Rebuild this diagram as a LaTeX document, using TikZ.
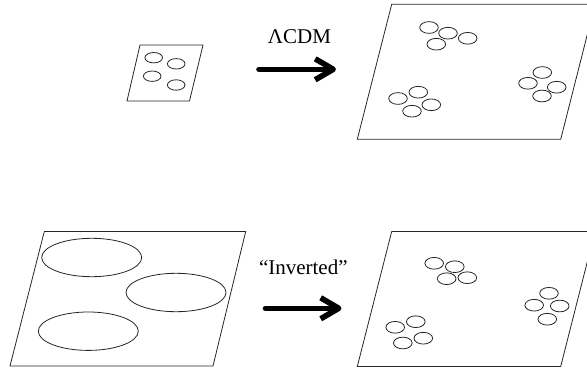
\documentclass[tikz,border=0pt]{standalone}
\usepackage{fontspec}
\setmainfont{Liberation Serif}
\usetikzlibrary{shapes.geometric,arrows.meta}
\begin{document}
\begin{tikzpicture}[x=1pt,y=-1pt]
        \tikzstyle{plane}=[draw=black!85,line width=0.8pt,line join=round]
        \tikzstyle{halo}=[ellipse,draw=black!85,line width=0.8pt,inner sep=0pt,minimum width=18.6,minimum height=11.7]
        \tikzstyle{tiny halo}=[halo,minimum width=17.6,minimum height=10.4]
        \tikzstyle{big halo}=[halo,minimum width=100,minimum height=38.4]
        \tikzstyle{label}=[font=\fontsize{21}{24}\selectfont,inner sep=0pt]
        \tikzstyle{evolve}=[draw,line width=5.6pt,line cap=round,-{Straight Barb[length=18pt,width=21pt,line join=round]}]
        \clip (0,0) rectangle (587,372);
        \begin{scope}
                \path[plane] (140,45) -- (203,45) -- (189.5,101) -- (127,101) -- cycle;
                \node [tiny halo] (p1) at (153.7,57.7) {};
                \node [tiny halo] (p2) at (176.2,63.8) {};
                \node [tiny halo] (p3) at (152.2,76.2) {};
                \node [tiny halo] (p4) at (176.2,85) {};
                \node [label] (lcdm) at (299.5,37) {ΛCDM};
                \coordinate (l1) at (259,69.3);
                \coordinate (l2) at (336,69.3);
                \path[evolve] (l1) -- (l2);
                \path[plane] (391.7,4.3) -- (595,4.3) -- (560.7,139.3) -- (357.3,139.3) -- cycle;
                \node [halo] (a1) at (429,27.5) {};
                \node [halo] (a2) at (448,33.2) {};
                \node [halo] (a3) at (467.7,38.3) {};
                \node [halo] (a4) at (436.3,44.2) {};
                \node [halo] (b1) at (398,98.5) {};
                \node [halo] (b2) at (418.3,92.2) {};
                \node [halo] (b3) at (431.3,104.8) {};
                \node [halo] (b4) at (412,111.2) {};
                \node [halo] (c1) at (542.3,72.5) {};
                \node [halo] (c2) at (528,83.3) {};
                \node [halo] (c3) at (556.7,87.2) {};
                \node [halo] (c4) at (542,96) {};
        \end{scope}
        \begin{scope}
                \path[plane] (44.3,231.5) -- (245.7,231.5) -- (213,366) -- (10,366) -- cycle;
                \node [big halo] (q1) at (91.7,257.5) {};
                \node [big halo] (q2) at (176,292.5) {};
                \node [big halo] (q3) at (88.3,331.2) {};
                \node [label] (inv) at (303.3,267) {“Inverted”};
                \coordinate (i1) at (265.5,308.3);
                \coordinate (i2) at (341.5,308.3);
                \path[evolve] (i1) -- (i2);
                \path[plane] (391.7,231.5) -- (595,231.5) -- (560.7,366.5) -- (357.3,366.5) -- cycle;
                \node [halo] (d1) at (434.2,263.3) {};
                \node [halo] (d2) at (454.8,266.7) {};
                \node [halo] (d3) at (446.7,278.7) {};
                \node [halo] (d4) at (467.3,277.7) {};
                \node [halo] (e1) at (395.2,327.3) {};
                \node [halo] (e2) at (415.8,321.7) {};
                \node [halo] (e3) at (423.3,338.2) {};
                \node [halo] (e4) at (402.8,343) {};
                \node [halo] (f1) at (549,293.3) {};
                \node [halo] (f2) at (534.2,305.2) {};
                \node [halo] (f3) at (559.7,306) {};
                \node [halo] (f4) at (547.3,319.2) {};
        \end{scope}
\end{tikzpicture}
\end{document}
